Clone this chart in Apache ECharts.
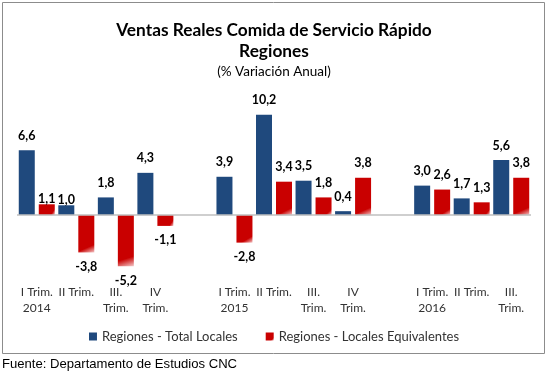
<!DOCTYPE html>
<html><head><meta charset="utf-8">
<script src="https://cdn.jsdelivr.net/npm/echarts@6/dist/echarts.min.js"></script>
<style>html,body{margin:0;padding:0;background:#fff}#c{width:548px;height:381px}</style>
</head><body><div id="c"></div>
<script>
const categories = ["I Trim.\n2014","II Trim.","III.\nTrim.","IV\nTrim.","","I Trim.\n2015","II Trim.","III.\nTrim.","IV\nTrim.","","I Trim.\n2016","II Trim.","III.\nTrim."];
const totalLocales = [6.6, 1.0, 1.8, 4.3, null, 3.9, 10.2, 3.5, 0.4, null, 3.0, 1.7, 5.6];
const localesEquivalentes = [1.1, -3.8, -5.2, -1.1, null, -2.8, 3.4, 1.8, 3.8, null, 2.6, 1.3, 3.8];
const seriesNames = ["Regiones - Total Locales", "Regiones - Locales Equivalentes"];

const FONT = 'Lato';
const fmt = p => p.value == null ? '' : p.value.toFixed(1).replace('.', ',');
const labelCfg = {show:true, position:'top', distance:8, fontFamily:FONT, fontWeight:'bold', fontSize:12.5, color:'#000', formatter:fmt};
function build(vals, lowIdx){
  return vals.map((v,i)=>{
    if (v == null) return null;
    const lab = {position: v < 0 ? 'bottom' : 'top'};
    if (i === lowIdx) lab.distance = -1;
    return {value:v, label:lab};
  });
}
const chart = echarts.init(document.getElementById('c'), null, {renderer:'canvas'});
chart.setOption({
  animation:false,
  backgroundColor:'#fff',
  title:[
    {text:'Ventas Reales Comida de Servicio Rápido', left:'center', top:17, textStyle:{fontFamily:FONT, fontWeight:'bold', fontSize:17.3, color:'#000'}},
    {text:'Regiones', left:'center', top:38, textStyle:{fontFamily:FONT, fontWeight:'bold', fontSize:17.3, color:'#000'}},
    {text:'(% Variación Anual)', left:'center', top:60, textStyle:{fontFamily:FONT, fontWeight:'normal', fontSize:13.5, color:'#000'}}
  ],
  graphic:[
    {type:'rect', shape:{x:2.5, y:2.5, width:542, height:351}, style:{fill:'none', stroke:'#8c8c8c', lineWidth:1}, silent:true},
    {type:'text', left:2, top:358, style:{text:'Fuente: Departamento de Estudios CNC', font:'13.1px "Liberation Sans", Arial', fill:'#000'}}
  ],
  legend:{
    data:seriesNames, bottom:33, left:'center', icon:'rect', itemWidth:8, itemHeight:8, itemGap:28,
    textStyle:{fontFamily:FONT, fontSize:13, color:'#333'}
  },
  grid:{left:17, width:514, top:107, height:171},
  xAxis:{
    type:'category', data:categories,
    axisLine:{show:false, onZero:false}, axisTick:{show:false},
    axisLabel:{interval:0, fontFamily:FONT, fontSize:12, color:'#333', lineHeight:16, margin:6}
  },
  yAxis:{type:'value', min:-6.4, max:11, show:false, splitLine:{show:false}},
  series:[
    {name:seriesNames[0], type:'bar', data:build(totalLocales, 1), barWidth:16, barGap:'25%',
     itemStyle:{color:'#1F497D'}, label:labelCfg,
     markLine:{silent:true, symbol:'none', label:{show:false}, lineStyle:{color:'#bfbfbf', type:'solid', width:1.5}, data:[{yAxis:0}]}},
    {name:seriesNames[1], type:'bar', data:build(localesEquivalentes, 0), barWidth:16, barGap:'25%',
     itemStyle:{color:{type:'linear', x:0, y:0, x2:1, y2:1, colorStops:[{offset:0,color:'#C90000'},{offset:0.82,color:'#C90000'},{offset:1,color:'#f3c8c8'}]}},
     label:labelCfg}
  ]
});
</script></body></html>
